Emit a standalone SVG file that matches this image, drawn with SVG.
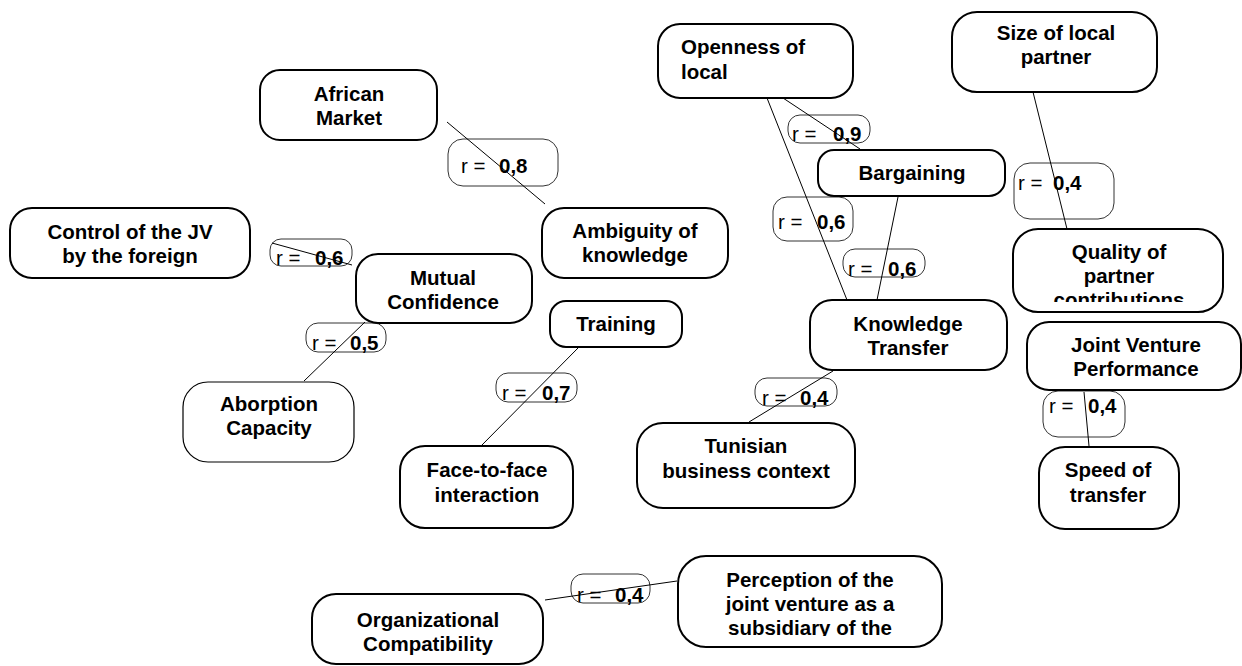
<svg xmlns="http://www.w3.org/2000/svg" width="1242" height="666" viewBox="0 0 1242 666">
<style>
.node rect{fill:#fff;stroke:#000;stroke-width:2}
.node.thin rect{stroke-width:1.2}
.node text{font-family:"Liberation Sans",Arial,sans-serif;font-weight:bold;font-size:20.5px;fill:#000;text-anchor:middle}
.pill rect{fill:none;stroke:#333;stroke-width:1}
.pill text{font-family:"Liberation Sans",Arial,sans-serif;font-size:20.5px;fill:#000}
.pill .v{font-weight:bold}
.conn line{stroke:#000;stroke-width:1}
</style>
<defs>
<clipPath id="cQ"><rect x="1013" y="229" width="210" height="73"/></clipPath>
<clipPath id="cP"><rect x="678" y="556" width="264" height="80"/></clipPath>
</defs>
<rect width="1242" height="666" fill="#fff"/>

<g id="pills">
<g class="pill" id="p08"><rect x="448" y="139" width="110" height="47" rx="15"/><text x="461" y="173">r =</text><text class="v" x="499" y="173">0,8</text></g>
<g class="pill" id="p06a"><rect x="270" y="239" width="82" height="27" rx="11"/><text x="276" y="265">r =</text><text class="v" x="315" y="265">0,6</text></g>
<g class="pill" id="p09"><rect x="788" y="115" width="82" height="28" rx="12"/><text x="792" y="141">r =</text><text class="v" x="833" y="141">0,9</text></g>
<g class="pill" id="p06b"><rect x="773" y="197" width="80" height="44" rx="14"/><text x="778" y="229">r =</text><text class="v" x="817" y="229">0,6</text></g>
<g class="pill" id="p06c"><rect x="843" y="249" width="82" height="28" rx="12"/><text x="848" y="276">r =</text><text class="v" x="888" y="276">0,6</text></g>
<g class="pill" id="p04s"><rect x="1014" y="163" width="100" height="56" rx="16"/><text x="1018" y="190">r =</text><text class="v" x="1053" y="190">0,4</text></g>
<g class="pill" id="p05"><rect x="306" y="323" width="80" height="29" rx="12"/><text x="312" y="350">r =</text><text class="v" x="350" y="350">0,5</text></g>
<g class="pill" id="p07"><rect x="496" y="373" width="81" height="29" rx="12"/><text x="502" y="400">r =</text><text class="v" x="542" y="400">0,7</text></g>
<g class="pill" id="p04k"><rect x="755" y="378" width="82" height="28" rx="12"/><text x="762" y="405">r =</text><text class="v" x="800" y="405">0,4</text></g>
<g class="pill" id="p04j"><rect x="1043" y="391" width="82" height="46" rx="15"/><text x="1049" y="413">r =</text><text class="v" x="1088" y="413">0,4</text></g>
<g class="pill" id="p04o"><rect x="571" y="574" width="79" height="29" rx="12"/><text x="577" y="602">r =</text><text class="v" x="615" y="602">0,4</text></g>
</g>

<g id="connectors" class="conn">
<line x1="447" y1="122" x2="545" y2="204"/>
<line x1="272" y1="243" x2="352" y2="265"/>
<line x1="365" y1="322" x2="304" y2="381"/>
<line x1="579" y1="347" x2="481" y2="446"/>
<line x1="783" y1="98" x2="860" y2="149"/>
<line x1="767" y1="98" x2="847" y2="300"/>
<line x1="898" y1="197" x2="877" y2="300"/>
<line x1="1033" y1="92" x2="1067" y2="229"/>
<line x1="833" y1="371" x2="749" y2="422"/>
<line x1="1084" y1="392" x2="1089" y2="446"/>
<line x1="545" y1="600" x2="677" y2="581"/>
</g>

<g id="african" class="node"><rect x="260" y="70" width="177" height="70" rx="20"/><text x="349" y="101">African</text><text x="349" y="125">Market</text></g>
<g id="control" class="node"><rect x="10" y="208" width="240" height="70" rx="22"/><text x="130" y="239">Control of the JV</text><text x="130" y="263">by the foreign</text></g>
<g id="ambiguity" class="node"><rect x="542" y="208" width="186" height="70" rx="22"/><text x="635" y="238">Ambiguity of</text><text x="635" y="262">knowledge</text></g>
<g id="mutual" class="node"><rect x="356" y="254" width="176" height="69" rx="22"/><text x="443" y="285">Mutual</text><text x="443" y="309">Confidence</text></g>
<g id="aborption" class="node thin"><rect x="183" y="382" width="171" height="80" rx="25"/><text x="269" y="411">Aborption</text><text x="269" y="435">Capacity</text></g>
<g id="training" class="node"><rect x="550" y="301" width="132" height="46" rx="16"/><text x="616" y="331">Training</text></g>
<g id="face" class="node"><rect x="400" y="446" width="173" height="82" rx="25"/><text x="487" y="477">Face-to-face</text><text x="487" y="502">interaction</text></g>
<g id="openness" class="node"><rect x="658" y="24" width="195" height="74" rx="22"/><text x="681" y="54" style="text-anchor:start">Openness of</text><text x="681" y="79" style="text-anchor:start">local</text></g>
<g id="bargaining" class="node"><rect x="818" y="150" width="187" height="46" rx="16"/><text x="912" y="180">Bargaining</text></g>
<g id="size" class="node"><rect x="952" y="12" width="205" height="80" rx="25"/><text x="1056" y="40">Size of local</text><text x="1056" y="64">partner</text></g>
<g id="quality" class="node"><rect x="1013" y="229" width="210" height="83" rx="25"/><g clip-path="url(#cQ)"><text x="1119" y="259">Quality of</text><text x="1119" y="283">partner</text><text x="1119" y="307">contributions</text></g></g>
<g id="knowledge" class="node"><rect x="810" y="300" width="197" height="70" rx="22"/><text x="908" y="331">Knowledge</text><text x="908" y="355">Transfer</text></g>
<g id="jvperf" class="node"><rect x="1027" y="322" width="214" height="68" rx="22"/><text x="1136" y="352">Joint Venture</text><text x="1136" y="376">Performance</text></g>
<g id="tunisian" class="node"><rect x="637" y="423" width="218" height="85" rx="26"/><text x="746" y="453">Tunisian</text><text x="746" y="478">business context</text></g>
<g id="speed" class="node"><rect x="1039" y="447" width="140" height="82" rx="26"/><text x="1108" y="477">Speed of</text><text x="1108" y="502">transfer</text></g>
<g id="orgcompat" class="node"><rect x="312" y="594" width="231" height="70" rx="24"/><text x="428" y="627">Organizational</text><text x="428" y="651">Compatibility</text></g>
<g id="perception" class="node"><rect x="678" y="556" width="264" height="91" rx="28"/><g clip-path="url(#cP)"><text x="810" y="587">Perception of the</text><text x="810" y="611">joint venture as a</text><text x="810" y="635">subsidiary of the</text></g></g>
</svg>
